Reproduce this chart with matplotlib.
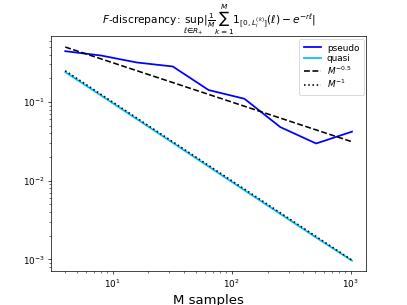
import numpy as np
import matplotlib
matplotlib.use('Agg')
import matplotlib.pyplot as plt

# sample sizes
M = np.array([4, 8, 16, 32, 64, 128, 256, 512, 1024])

# discrepancy
pseudo = np.array([0.443, 0.39, 0.318, 0.283, 0.142, 0.11, 0.048, 0.0297, 0.042])
quasi = np.array([0.24, 0.121, 0.0605, 0.0303, 0.0151, 0.00755, 0.00378, 0.00189, 0.00096])

fig = plt.figure(figsize=(6.4, 4.8), dpi=63.6)

plt.loglog(M, pseudo, color='blue', lw=2, label='pseudo')
plt.loglog(M, quasi, color='deepskyblue', lw=2, label='quasi')
plt.loglog(M, M ** -0.5, 'k--', lw=1.8, label=r'$M^{-0.5}$')
plt.loglog(M, 1.0 / M, 'k:', lw=1.8, label=r'$M^{-1}$')

plt.xlabel('M samples', fontsize=15)
plt.title(r'$F$-discrepancy: $\sup_{\ell\in R_+}|\frac{1}{M}\sum_{k=1}^{M} 1_{[0,L_i^{(k)}]}(\ell)-e^{-r\ell}|$',
          pad=3)

plt.legend(loc='upper right', labelspacing=0.15, borderaxespad=0.3, borderpad=0.5,
           handletextpad=0.6)

plt.savefig('out.png', dpi=63.6)
